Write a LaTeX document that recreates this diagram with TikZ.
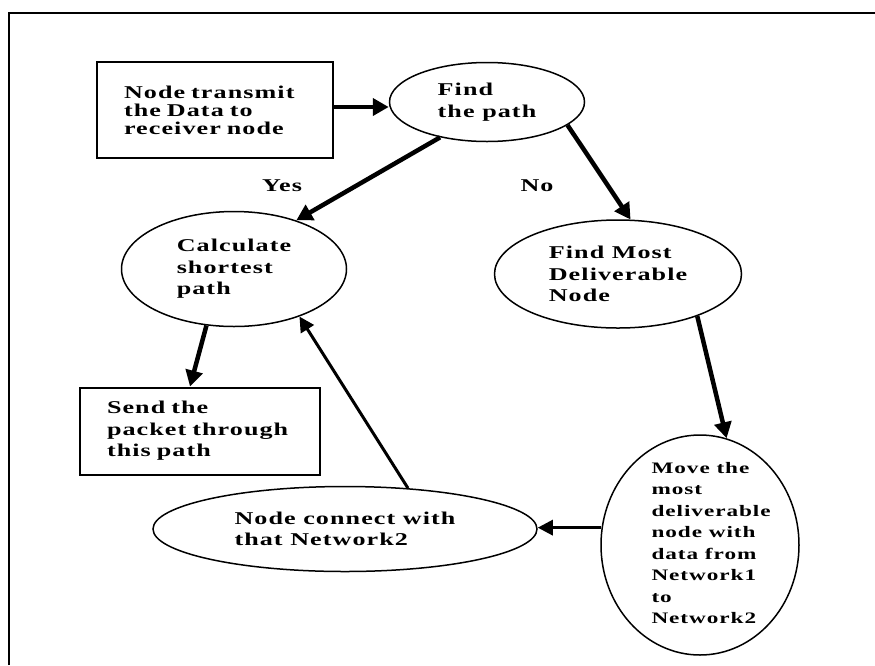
\documentclass[tikz,border=0pt]{standalone}
\usepackage{fontspec}
\setmainfont{Liberation Serif}[FakeStretch=1.45,LetterSpace=6]
\usetikzlibrary{shapes.geometric,arrows.meta}
\tikzstyle{txt} = [font=\bfseries\fontsize{18}{21.5}\selectfont]
\tikzstyle{process} = [txt, rectangle, draw=black, line width=2pt, align=left, inner xsep=27pt]
\tikzstyle{decision} = [txt, ellipse, draw=black, line width=1.5pt, align=left, inner sep=0pt]
\tikzstyle{arrow} = [line width=4.5pt,-{Triangle[length=16pt,width=17pt]}]
\tikzstyle{thinarrow} = [line width=3pt,-{Triangle[length=15pt,width=15pt]}]

\begin{document}
\begin{tikzpicture}[x=1pt,y=-1pt]
\useasboundingbox (0,0) rectangle (875,665);
% frame
\draw[line width=2.4pt] (9,665) -- (9,13) -- (875,13);

\node (transmit) [process, minimum width=236, minimum height=96, text width=182, font=\bfseries\fontsize{18}{18}\selectfont] at (215,110) {Node transmit\\the Data to\\receiver node};
\node (findpath) [decision, minimum width=195, minimum height=79] at (487,102) {Find\\the path};
\node (calc) [decision, minimum width=225, minimum height=115] at (234,269) {Calculate\\shortest\\path};
\node (findmost) [decision, minimum width=247, minimum height=108] at (618,274) {Find Most\\Deliverable\\Node};
\node (send) [process, minimum width=240, minimum height=87, text width=186] at (200,431) {Send the\\packet through\\this path};
\node (connect) [decision, minimum width=384, minimum height=85] at (345,529) {Node connect with\\that Network2};
\node (move) [decision, minimum width=198, minimum height=220] at (700,545) {};
\node (movetext) [txt, align=left, anchor=west, font=\bfseries\fontsize{16}{21.5}\selectfont] at (648,543) {Move the\\most\\deliverable\\node with\\data from\\Network1\\to\\Network2};

\node (yes) [txt] at (282,186) {Yes};
\node (no) [txt] at (537,186) {No};

\draw [arrow] ([yshift=3pt]transmit.east) -- ([yshift=3pt]transmit.east -| findpath.west);
\draw [arrow] (findpath.217) -- (calc.38);
\draw [arrow] (findpath.344) -- (findmost.77);
\draw [arrow] (calc.244) -- ([xshift=-10pt]send.north);
\draw [arrow] (findmost.332) -- (move.76);
\draw [thinarrow] (move.170) -- (move.170 -| connect.east);
\draw [thinarrow] (connect.33) -- (calc.324);
\end{tikzpicture}
\end{document}
